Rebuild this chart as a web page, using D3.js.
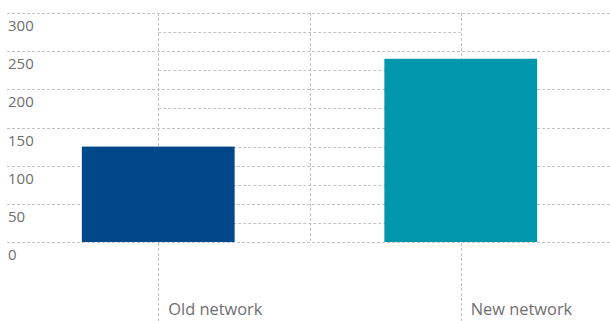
<!DOCTYPE html>
<html>
<head>
<meta charset="utf-8">
<script src="https://cdn.jsdelivr.net/npm/d3@7"></script>
<style>
  body { margin: 0; background: #fff; }
  text { font-family: "Open Sans", "Noto Sans", sans-serif; }
</style>
</head>
<body>
<div id="chart"></div>
<script>
const categories = ["Old network", "New network"];
const values = [125, 240];
const barColors = ["#00488a", "#0096ac"];
const yTicks = [0, 50, 100, 150, 200, 250, 300];
const minorTicks = [25, 75, 125, 175, 225, 275];

function createBarChart(selector = "#chart") {
    const width = 610;
    const height = 321;
    const margin = { top: 13, right: 0, bottom: 79, left: 7 };

    const svg = d3.select(selector)
        .html("")
        .append("svg")
        .attr("width", width)
        .attr("height", height);

    const x = d3.scaleBand()
        .domain(categories)
        .range([margin.left, width + 2])
        .paddingInner(0)
        .paddingOuter(0);

    const y = d3.scaleLinear()
        .domain([0, 300])
        .range([height - margin.bottom, margin.top]);

    const centre = c => x(c) + x.bandwidth() / 2;
    const barW = x.bandwidth() * 0.505;
    const dash = "3,2";
    const gridColor = "#c4c4c4";

    // full horizontal gridlines
    svg.append("g")
        .selectAll("line")
        .data(yTicks)
        .join("line")
        .attr("x1", margin.left)
        .attr("x2", width)
        .attr("y1", d => Math.round(y(d)) + 0.5)
        .attr("y2", d => Math.round(y(d)) + 0.5)
        .attr("stroke", gridColor)
        .attr("stroke-dasharray", dash);

    // minor gridlines between category centres
    svg.append("g")
        .selectAll("line")
        .data(minorTicks)
        .join("line")
        .attr("x1", centre(categories[0]))
        .attr("x2", centre(categories[1]))
        .attr("y1", d => Math.round(y(d)) + 0.5)
        .attr("y2", d => Math.round(y(d)) + 0.5)
        .attr("stroke", gridColor)
        .attr("stroke-dasharray", dash);

    // vertical line between the bands
    svg.append("line")
        .attr("x1", Math.round(x(categories[1])) + 0.5)
        .attr("x2", Math.round(x(categories[1])) + 0.5)
        .attr("y1", y(300))
        .attr("y2", y(0))
        .attr("stroke", gridColor)
        .attr("stroke-dasharray", dash);

    // category tick lines, running down to the labels
    svg.append("g")
        .selectAll("line")
        .data(categories)
        .join("line")
        .attr("x1", d => Math.round(centre(d)) + 0.5)
        .attr("x2", d => Math.round(centre(d)) + 0.5)
        .attr("y1", y(300))
        .attr("y2", height)
        .attr("stroke", gridColor)
        .attr("stroke-dasharray", dash);

    // y labels sit just under each gridline
    svg.append("g")
        .selectAll("text")
        .data(yTicks)
        .join("text")
        .attr("x", 8)
        .attr("y", d => y(d) + 18)
        .style("font-size", "15px")
        .style("fill", "#6f6f6f")
        .text(d => d);

    svg.selectAll(".bar")
        .data(categories)
        .join("rect")
        .attr("class", "bar")
        .attr("x", d => centre(d) - barW / 2)
        .attr("y", (d, i) => y(values[i]))
        .attr("width", barW)
        .attr("height", (d, i) => y(0) - y(values[i]))
        .attr("fill", (d, i) => barColors[i]);

    // category labels to the right of the tick lines
    svg.append("g")
        .selectAll("text")
        .data(categories)
        .join("text")
        .attr("x", d => centre(d) + 10)
        .attr("y", 315)
        .style("font-size", "16.4px")
        .style("fill", "#6f6f6f")
        .text(d => d);
}

createBarChart();
</script>
</body>
</html>
